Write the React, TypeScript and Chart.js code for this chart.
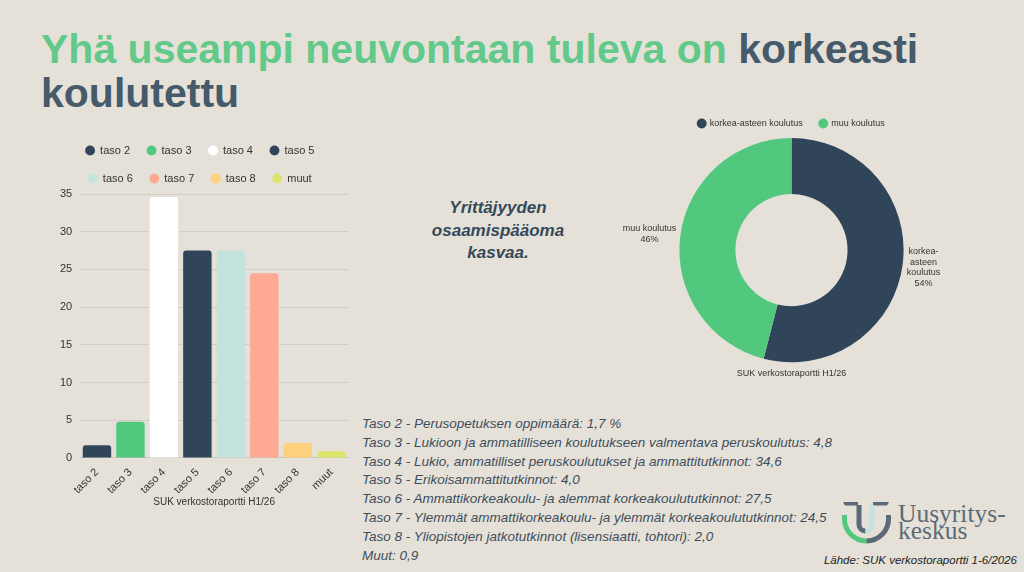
import React, { useEffect, useRef } from "react";
import { Chart, registerables } from "chart.js";

Chart.register(...registerables);

const FONT = '"Liberation Sans", Arial, Helvetica, sans-serif';

// ---- Bar chart data ----
const barCategories = ["taso 2", "taso 3", "taso 4", "taso 5", "taso 6", "taso 7", "taso 8", "muut"];
const barValues = [1.7, 4.8, 34.6, 27.5, 27.5, 24.5, 2.0, 0.9];
const barColors = ["#30455a", "#52c87f", "#ffffff", "#30455a", "#c3e4de", "#fda994", "#fdd07b", "#dce56b"];
const yMax = 35;
const yStep = 5;
const barAxisTitle = "SUK verkostoraportti H1/26";

// ---- Doughnut data ----
const doughnutLabels = ["korkea-asteen koulutus", "muu koulutus"];
const doughnutValues = [54, 46];
const doughnutColors = ["#30455a", "#52c87f"];
const doughnutLabelLines = [["korkea-", "asteen", "koulutus"], ["muu koulutus"]];
const doughnutTitle = "SUK verkostoraportti H1/26";

// ---- Text ----
const titleGreen = "Yhä useampi neuvontaan tuleva on ";
const titleDark = "korkeasti koulutettu";
const calloutLines = ["Yrittäjyyden", "osaamispääoma", "kasvaa."];
const listLines = [
  "Taso 2 - Perusopetuksen oppimäärä: 1,7 %",
  "Taso 3 - Lukioon ja ammatilliseen koulutukseen valmentava peruskoulutus: 4,8",
  "Taso 4 - Lukio, ammatilliset peruskoulutukset ja ammattitutkinnot: 34,6",
  "Taso 5 - Erikoisammattitutkinnot: 4,0",
  "Taso 6 - Ammattikorkeakoulu- ja alemmat korkeakoulututkinnot: 27,5",
  "Taso 7 - Ylemmät ammattikorkeakoulu- ja ylemmät korkeakoulututkinnot: 24,5",
  "Taso 8 - Yliopistojen jatkotutkinnot (lisensiaatti, tohtori): 2,0",
  "Muut: 0,9",
];
const sourceText = "Lähde: SUK verkostoraportti 1-6/2026";
const logoLines = ["Uusyritys-", "keskus"];

const outerLabelPlugin = {
  id: "outerLabels",
  afterDatasetsDraw(chart: any) {
    const meta = chart.getDatasetMeta(0);
    const ctx = chart.ctx;
    const data = chart.data.datasets[0].data as number[];
    const total = data.reduce((a, b) => a + b, 0);
    ctx.save();
    ctx.font = `9px ${FONT}`;
    ctx.fillStyle = "#333333";
    ctx.textAlign = "center";
    ctx.textBaseline = "middle";
    meta.data.forEach((arc: any, i: number) => {
      const p = arc.getProps(["x", "y", "startAngle", "endAngle", "outerRadius"], true);
      const mid = (p.startAngle + p.endAngle) / 2;
      const dx = Math.cos(mid);
      const dy = Math.sin(mid);
      const lines = [...doughnutLabelLines[i], Math.round((data[i] / total) * 100) + "%"];
      const lh = 10.5;
      const w = Math.max(...lines.map((l) => ctx.measureText(l).width));
      const h = lines.length * lh;
      const cx = p.x + (p.outerRadius + 4) * dx + Math.sign(dx) * (w / 2);
      const cy = p.y + (p.outerRadius + 4) * dy + dy * (h / 2);
      lines.forEach((l, k) => ctx.fillText(l, cx, cy - h / 2 + lh / 2 + k * lh));
    });
    ctx.restore();
  },
};

function BarChart() {
  const ref = useRef<HTMLCanvasElement>(null);
  useEffect(() => {
    if (!ref.current) return;
    const chart = new Chart(ref.current, {
      type: "bar",
      data: {
        labels: barCategories,
        datasets: [
          {
            data: barValues,
            backgroundColor: barColors,
            borderWidth: 0,
            borderRadius: 3,
            barPercentage: 0.85,
            categoryPercentage: 1,
          },
        ],
      },
      options: {
        animation: false,
        responsive: false,
        maintainAspectRatio: false,
        layout: { padding: { left: 4, right: 12, top: 8, bottom: 0 } },
        plugins: {
          tooltip: { enabled: false },
          legend: {
            display: true,
            position: "top",
            labels: {
              usePointStyle: true,
              boxWidth: 9,
              boxHeight: 7,
              padding: 17,
              color: "#333333",
              font: { family: FONT, size: 11 },
              generateLabels: () =>
                barCategories.map((c, i) => ({
                  text: c,
                  fillStyle: barColors[i],
                  strokeStyle: barColors[i],
                  lineWidth: 0,
                  pointStyle: "circle",
                  hidden: false,
                  index: i,
                  datasetIndex: 0,
                  fontColor: "#333333",
                })),
            },
          },
        },
        scales: {
          x: {
            grid: { display: false },
            border: { display: true, color: "#c9c5bc" },
            ticks: {
              color: "#333333",
              font: { family: FONT, size: 11 },
              minRotation: 45,
              maxRotation: 45,
              padding: 0,
            },
            title: {
              display: true,
              text: barAxisTitle,
              color: "#333333",
              font: { family: FONT, size: 10 },
              padding: { top: 0, bottom: 4.5 },
            },
          },
          y: {
            min: 0,
            max: yMax,
            grid: { color: "#d2cec5", drawTicks: false },
            border: { display: false },
            ticks: {
              stepSize: yStep,
              color: "#333333",
              font: { family: FONT, size: 11 },
              padding: 8,
            },
          },
        },
      },
    });
    return () => chart.destroy();
  }, []);
  return (
    <canvas
      ref={ref}
      width={312}
      height={393}
      style={{ position: "absolute", left: 48, top: 120, width: 312, height: 393 }}
    />
  );
}

function DoughnutChart() {
  const ref = useRef<HTMLCanvasElement>(null);
  useEffect(() => {
    if (!ref.current) return;
    const chart = new Chart(ref.current, {
      type: "doughnut",
      data: {
        labels: doughnutLabels,
        datasets: [
          {
            data: doughnutValues,
            backgroundColor: doughnutColors,
            borderWidth: 0,
          },
        ],
      },
      options: {
        animation: false,
        responsive: false,
        maintainAspectRatio: false,
        cutout: "50%",
        layout: { padding: { left: 0, right: 0, top: 4, bottom: 6 } },
        plugins: {
          tooltip: { enabled: false },
          legend: {
            display: true,
            position: "top",
            labels: {
              usePointStyle: true,
              boxWidth: 7,
              boxHeight: 7,
              padding: 17,
              color: "#333333",
              font: { family: FONT, size: 9 },
            },
          },
          title: {
            display: true,
            position: "bottom",
            text: doughnutTitle,
            color: "#333333",
            font: { family: FONT, size: 9, weight: "normal" },
            padding: { top: 6, bottom: 6 },
          },
        },
      },
      plugins: [outerLabelPlugin],
    });
    return () => chart.destroy();
  }, []);
  return (
    <canvas
      ref={ref}
      width={383}
      height={293}
      style={{ position: "absolute", left: 600, top: 98, width: 383, height: 293 }}
    />
  );
}

function Logo() {
  const gray = "#5b6a76";
  return (
    <>
      <svg
        width={60}
        height={52}
        viewBox="0 0 60 52"
        style={{ position: "absolute", left: 836, top: 496 }}
      >
        <polygon points="7,6 22,6 22,9.5 9,9.5" fill={gray} />
        <polygon points="37,6 53,6 51,9.5 37,9.5" fill={gray} />
        <path d="M23 9 L23 28.5 A6.5 6.5 0 0 0 29.5 35" fill="none" stroke={gray} strokeWidth={5} />
        <path d="M29.5 35 A6.5 6.5 0 0 0 36 28.5 L36 9" fill="none" stroke="#c3e4de" strokeWidth={5} />
        <path d="M8.5 19 L8.5 23 A22 22 0 0 0 30.5 45" fill="none" stroke="#52c87f" strokeWidth={5} />
        <path d="M30.5 45 A22 22 0 0 0 52.5 23 L52.5 19" fill="none" stroke={gray} strokeWidth={5} />
      </svg>
      <div
        style={{
          position: "absolute",
          left: 898,
          top: 506,
          fontFamily: '"Liberation Serif", "DejaVu Serif", serif',
          fontSize: 25.5,
          lineHeight: "16.5px",
          color: gray,
          whiteSpace: "nowrap",
        }}
      >
        {logoLines.map((l, i) => (
          <div key={i}>{l}</div>
        ))}
      </div>
    </>
  );
}

export default function App() {
  useEffect(() => {
    document.body.style.margin = "0";
  }, []);
  return (
    <div
      style={{
        position: "fixed",
        left: 0,
        top: 0,
        width: 1024,
        height: 572,
        background: "#e5e1d8",
        overflow: "hidden",
        fontFamily: FONT,
      }}
    >
      <div
        style={{
          position: "absolute",
          left: 41,
          top: 27,
          width: 900,
          fontWeight: 700,
          fontSize: 41,
          lineHeight: "44px",
        }}
      >
        <span style={{ color: "#63c98b" }}>{titleGreen}</span>
        <span style={{ color: "#455a6b" }}>{titleDark}</span>
      </div>

      <BarChart />
      <DoughnutChart />

      <div
        style={{
          position: "absolute",
          left: 398,
          top: 197,
          width: 200,
          textAlign: "center",
          fontWeight: 700,
          fontStyle: "italic",
          fontSize: 17,
          lineHeight: "22.5px",
          color: "#34495a",
        }}
      >
        {calloutLines.map((l, i) => (
          <div key={i}>{l}</div>
        ))}
      </div>

      <div
        style={{
          position: "absolute",
          left: 362,
          top: 415,
          fontStyle: "italic",
          fontSize: 13.5,
          lineHeight: "18.8px",
          color: "#3e4d5b",
          whiteSpace: "nowrap",
        }}
      >
        {listLines.map((l, i) => (
          <div key={i}>{l}</div>
        ))}
      </div>

      <Logo />

      <div
        style={{
          position: "absolute",
          right: 7,
          top: 552,
          fontStyle: "italic",
          fontSize: 11.5,
          lineHeight: "16px",
          color: "#222222",
          whiteSpace: "nowrap",
        }}
      >
        {sourceText}
      </div>
    </div>
  );
}
